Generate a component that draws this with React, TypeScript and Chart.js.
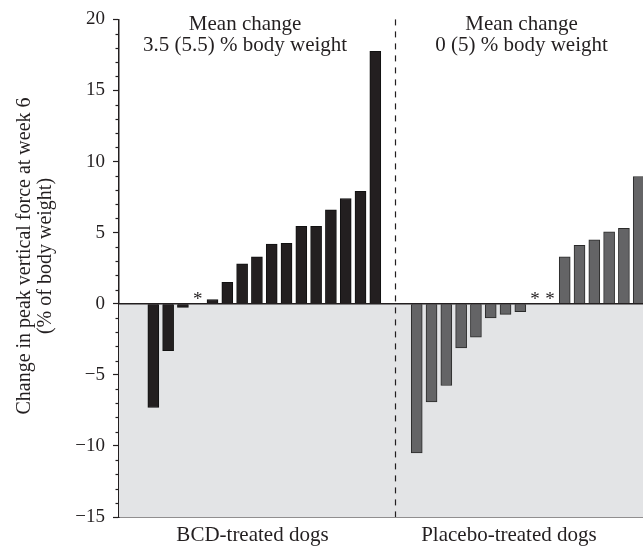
import React, { useEffect, useRef } from 'react';
import { Chart, registerables } from 'chart.js';

Chart.register(...registerables);

// ---- data ----
const bcdValues: (number | null)[] = [-7.3, -3.3, -0.25, null, 0.3, 1.5, 2.8, 3.3, 4.2, 4.25, 5.45, 5.45, 6.6, 7.4, 7.9, 17.75];
const placeboValues: (number | null)[] = [-10.5, -6.9, -5.75, -3.1, -2.35, -1.0, -0.75, -0.55, null, null, 3.3, 4.1, 4.5, 5.05, 5.3, 8.95];
const groupLabels = ['BCD-treated dogs', 'Placebo-treated dogs'];
const meanTexts = [
  ['Mean change', '3.5 (5.5) % body weight'],
  ['Mean change', '0 (5) % body weight'],
];
const yTitle = ['Change in peak vertical force at week 6', '(% of body weight)'];
const yMin = -15;
const yMax = 20;
const yMajorStep = 5;
const yMinorStep = 1;

// ---- layout (in x-slot units) ----
const placeboOffset = 17.8;
const xMin = -2.32;
const xMax = 33.09;
const dividerX = 16.33;
const groupLabelX = [6.7, 24.03];
const meanTextX = [6.2, 24.88];

const INK = '#231f20';
const SERIF = "'Liberation Serif', 'DejaVu Serif', serif";

const decor = {
  id: 'decor',
  beforeDatasetsDraw(chart: any) {
    const { ctx, chartArea: a, scales } = chart;
    const x = scales.x;
    const y = scales.y;
    const y0 = y.getPixelForValue(0);
    ctx.save();
    ctx.fillStyle = '#e3e4e6';
    ctx.fillRect(a.left, y0, a.right - a.left, a.bottom - y0);
    // dashed divider
    const dx = Math.round(x.getPixelForValue(dividerX)) + 0.5;
    ctx.strokeStyle = INK;
    ctx.lineWidth = 1.2;
    ctx.setLineDash([6, 6]);
    ctx.beginPath();
    ctx.moveTo(dx, a.top);
    ctx.lineTo(dx, a.bottom);
    ctx.stroke();
    ctx.restore();
  },
  afterDatasetsDraw(chart: any) {
    const { ctx, chartArea: a, scales } = chart;
    const x = scales.x;
    const y = scales.y;
    const y0 = y.getPixelForValue(0);
    ctx.save();
    // zero line
    ctx.strokeStyle = INK;
    ctx.lineWidth = 1.3;
    ctx.beginPath();
    ctx.moveTo(a.left, y0);
    ctx.lineTo(a.right, y0);
    ctx.stroke();
    // asterisks for missing values
    ctx.fillStyle = INK;
    ctx.font = `19px ${SERIF}`;
    ctx.textAlign = 'center';
    ctx.textBaseline = 'alphabetic';
    bcdValues.forEach((v, i) => {
      if (v === null) ctx.fillText('*', x.getPixelForValue(i), y0 + 1);
    });
    placeboValues.forEach((v, i) => {
      if (v === null) ctx.fillText('*', x.getPixelForValue(i + placeboOffset), y0 + 1);
    });
    ctx.restore();
  },
  afterDraw(chart: any) {
    const { ctx, chartArea: a, scales } = chart;
    const x = scales.x;
    const y = scales.y;
    ctx.save();
    // minor ticks
    ctx.strokeStyle = INK;
    ctx.lineWidth = 1.2;
    for (let v = yMin; v <= yMax; v += yMinorStep) {
      if (v % yMajorStep === 0) continue;
      const py = Math.round(y.getPixelForValue(v)) + 0.5;
      ctx.beginPath();
      ctx.moveTo(a.left - 3.5, py);
      ctx.lineTo(a.left, py);
      ctx.stroke();
    }
    ctx.fillStyle = INK;
    ctx.textAlign = 'center';
    ctx.textBaseline = 'alphabetic';
    // mean change annotations
    ctx.font = `21px ${SERIF}`;
    meanTexts.forEach((lines, g) => {
      const px = x.getPixelForValue(meanTextX[g]);
      lines.forEach((t, k) => ctx.fillText(t, px, 30 + k * 21));
    });
    // group labels
    groupLabels.forEach((t, g) => {
      ctx.fillText(t, x.getPixelForValue(groupLabelX[g]), a.bottom + 24);
    });
    // y title
    ctx.font = `20px ${SERIF}`;
    const cy = 256;
    yTitle.forEach((t, k) => {
      ctx.save();
      ctx.translate(30 + k * 21, cy);
      ctx.rotate(-Math.PI / 2);
      ctx.fillText(t, 0, 0);
      ctx.restore();
    });
    ctx.restore();
  },
};

export default function App() {
  const ref = useRef<HTMLCanvasElement>(null);
  useEffect(() => {
    if (!ref.current) return;
    const chart = new Chart(ref.current, {
      type: 'bar',
      data: {
        datasets: [
          {
            label: 'BCD',
            data: bcdValues.map((v, i) => ({ x: i, y: v })) as any,
            backgroundColor: '#231f20',
            borderColor: '#111',
            borderWidth: 1,
            barThickness: 11,
            grouped: false,
          } as any,
          {
            label: 'Placebo',
            data: placeboValues.map((v, i) => ({ x: i + placeboOffset, y: v })) as any,
            backgroundColor: '#646466',
            borderColor: '#2a2a2a',
            borderWidth: 1,
            barThickness: 11,
            grouped: false,
          } as any,
        ],
      },
      options: {
        animation: false,
        responsive: true,
        maintainAspectRatio: false,
        layout: { padding: { top: 16, left: 0, right: 0, bottom: 0 } },
        plugins: { legend: { display: false }, tooltip: { enabled: false } },
        scales: {
          x: {
            type: 'linear',
            min: xMin,
            max: xMax,
            offset: false,
            z: 1,
            grid: { display: false },
            ticks: { display: false },
            border: { display: true, color: INK, width: 1.5 },
            afterFit: (s: any) => {
              s.height = 31;
            },
          },
          y: {
            min: yMin,
            max: yMax,
            z: 1,
            ticks: {
              stepSize: yMajorStep,
              padding: 8,
              color: INK,
              font: { family: SERIF, size: 19 },
              callback: (v: any) => (v < 0 ? '\u2212' + Math.abs(v) : String(v)),
            },
            grid: {
              display: true,
              drawOnChartArea: false,
              drawTicks: true,
              tickLength: 6,
              tickColor: INK,
              tickWidth: 1.2,
            },
            border: { display: true, color: INK, width: 1.5 },
            afterFit: (s: any) => {
              s.width = 119;
            },
          },
        },
      } as any,
      plugins: [decor],
    });
    return () => chart.destroy();
  }, []);
  return (
    <div style={{ position: 'fixed', left: 0, top: 0, width: 643, height: 548, background: '#fff' }}>
      <canvas ref={ref} />
    </div>
  );
}
